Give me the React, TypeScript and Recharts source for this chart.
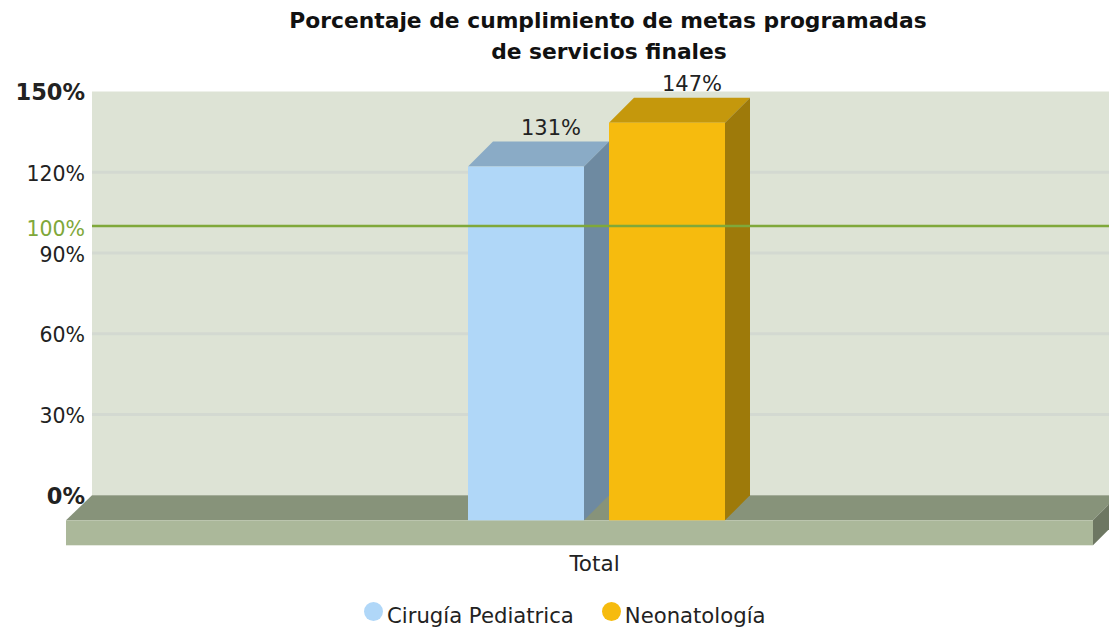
import { Bar, BarChart, CartesianGrid, LabelList, Legend, ReferenceArea, ReferenceLine, XAxis, YAxis } from "recharts";

const categories = ["Total"];
const cirugiaValues = [131.4];
const neonatologiaValues = [147.7];
const yTicks = [0, 30, 60, 90, 100, 120, 150];
const gridValues = [30, 60, 90, 120];
const titleLines = ["Porcentaje de cumplimiento de metas programadas", "de servicios finales"];

const rows = categories.map((category, i) => ({
  category,
  cirugia: cirugiaValues[i],
  neonatologia: neonatologiaValues[i],
}));

const FONT = "'DejaVu Sans', Verdana, sans-serif";
const TEXT = "#222";
const GREEN = "#7fa83a";
const DEPTH_X = 25;
const DEPTH_Y = 25;
const AXIS_PADDING = 42;

// The axis and grid sit on the back wall, so bars get pushed forward by the depth.
function Bar3D(props: any) {
  const { x, y, width, height, fill, topFill, sideFill } = props;
  const fx = x - DEPTH_X;
  const fy = y + DEPTH_Y;
  return (
    <g>
      <polygon points={`${fx},${fy} ${x},${y} ${x + width},${y} ${fx + width},${fy}`} fill={topFill} />
      <polygon points={`${fx + width},${fy} ${x + width},${y} ${x + width},${y + height} ${fx + width},${fy + height}`} fill={sideFill} />
      <rect x={fx} y={fy} width={width} height={height} fill={fill} />
    </g>
  );
}

function Floor(props: any) {
  const { x, y, width, height } = props;
  const back = y + height;
  const front = back + DEPTH_Y;
  const backLeft = x - AXIS_PADDING;
  const left = backLeft - 26;
  const right = x + width - 16;
  return (
    <g>
      <polygon points={`${backLeft},${back} ${right + DEPTH_X},${back} ${right},${front} ${left},${front}`} fill="#87937a" />
      <rect x={left} y={front} width={right - left} height={DEPTH_Y} fill="#abb89a" />
      <polygon points={`${right},${front} ${right + DEPTH_X},${back} ${right + DEPTH_X},${back + DEPTH_Y} ${right},${front + DEPTH_Y}`} fill="#6d7762" />
    </g>
  );
}

function YTick({ x, y, payload }: any) {
  const v = payload.value;
  const bold = v === 0 || v === 150;
  return (
    <text x={x} y={y} dy={v === 100 ? 9.5 : 8.5} textAnchor="end" fontFamily={FONT} fontSize={bold ? 22.5 : 20.5} fontWeight={bold ? 700 : 400} fill={v === 100 ? GREEN : TEXT}>
      {v}%
    </text>
  );
}

function XTick({ x, payload }: any) {
  return (
    <text x={x - 27} y={571} textAnchor="middle" fontFamily={FONT} fontSize={21.5} fill={TEXT}>
      {payload.value}
    </text>
  );
}

function ChartLegend({ payload }: any) {
  return (
    <div style={{ display: "flex", fontFamily: FONT, fontSize: 21.2, color: TEXT, whiteSpace: "nowrap" }}>
      {payload.map((entry: any) => (
        <div key={entry.value} style={{ display: "flex", alignItems: "center", marginRight: 28 }}>
          <span style={{ width: 19, height: 19, borderRadius: "50%", background: entry.color, marginRight: 4, marginTop: -8 }} />
          <span>{entry.value}</span>
        </div>
      ))}
    </div>
  );
}

export default function App() {
  return (
    <div style={{ position: "absolute", left: 0, top: 0, width: 1109, height: 628, overflow: "hidden", background: "#fff" }}>
      <BarChart
        width={1109}
        height={628}
        data={rows}
        barSize={116}
        barGap={25}
        margin={{ top: 91.5, right: 0, bottom: 72.7, left: 0 }}
      >
        <CartesianGrid fill="#dde3d5" stroke="#d3d9d1" strokeWidth={3} vertical={false} horizontalValues={gridValues} />
        <ReferenceArea y1={0} y2={150} fill="none" stroke="none" shape={<Floor />} />
        <XAxis dataKey="category" height={60} padding={{ left: AXIS_PADDING, right: 0 }} axisLine={false} tickLine={false} tick={<XTick />} />
        <YAxis width={92} domain={[0, 150]} ticks={yTicks} interval={0} axisLine={false} tickLine={false} tickSize={0} tickMargin={7} tick={<YTick />} />
        <Legend
          layout="horizontal"
          verticalAlign="middle"
          align="center"
          content={<ChartLegend />}
          wrapperStyle={{ position: "absolute", left: 364, top: 603, width: "auto", height: 28 }}
        />
        <Bar dataKey="cirugia" name="Cirugía Pediatrica" fill="#b0d7f8" isAnimationActive={false} shape={<Bar3D topFill="#8aabc6" sideFill="#6e8aa1" />}>
          <LabelList dataKey="cirugia" position="top" offset={7} fontFamily={FONT} fontSize={21} fill={TEXT} formatter={(v: any) => `${Math.floor(v)}%`} />
        </Bar>
        <Bar dataKey="neonatologia" name="Neonatología" fill="#f6bb0e" isAnimationActive={false} shape={<Bar3D topFill="#c5980c" sideFill="#9e7a0a" />}>
          <LabelList dataKey="neonatologia" position="top" offset={7} fontFamily={FONT} fontSize={21} fill={TEXT} formatter={(v: any) => `${Math.floor(v)}%`} />
        </Bar>
        <ReferenceLine y={100} stroke={GREEN} strokeWidth={2.5} />
        <text x={608} y={28} textAnchor="middle" fontFamily={FONT} fontSize={21.8} fontWeight={700} fill="#111">{titleLines[0]}</text>
        <text x={609} y={59} textAnchor="middle" fontFamily={FONT} fontSize={21.8} fontWeight={700} fill="#111">{titleLines[1]}</text>
      </BarChart>
    </div>
  );
}
